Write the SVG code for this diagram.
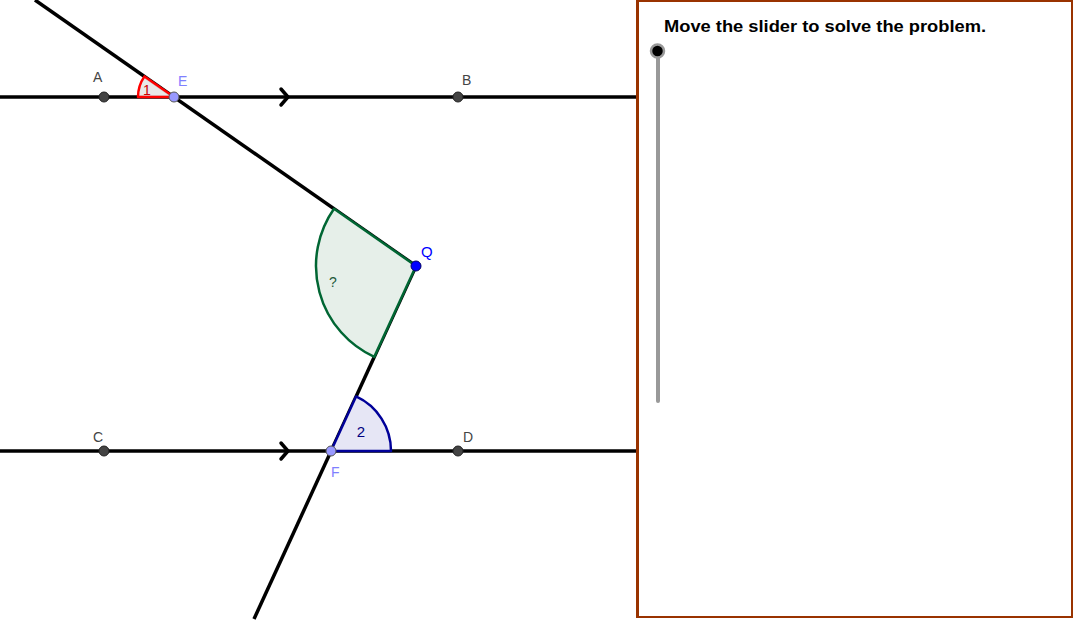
<svg xmlns="http://www.w3.org/2000/svg" width="1075" height="620" viewBox="0 0 1075 620">
<style>
.ln{stroke:#000;stroke-width:3.5;fill:none;stroke-linecap:butt}
.chev{stroke:#000;stroke-width:3.5;fill:none;stroke-linecap:round;stroke-linejoin:miter}
.pt{fill:#444;stroke:#222;stroke-width:1}
.pf{fill:#9999ff;stroke:#555;stroke-width:1}
.lbl{font-family:"Liberation Sans",Arial,sans-serif;font-size:14px;fill:#444}
.lblf{font-family:"Liberation Sans",Arial,sans-serif;font-size:14px;fill:#7f7fff}
</style>
<rect width="1075" height="620" fill="#fff"/>
<g id="connectors">
<line class="ln" x1="0" y1="97" x2="636" y2="97"/>
<line class="ln" x1="0" y1="451" x2="636" y2="451"/>
<line class="ln" x1="35" y1="0" x2="416" y2="266"/>
<line class="ln" x1="416" y1="266" x2="254" y2="619"/>
<polyline class="chev" points="281,89 288,97 281,105"/>
<polyline class="chev" points="281,443 288,451 281,459"/>
</g>
<g id="angle1">
<path d="M174,97 L138,97 A36,36 0 0 1 144.5,76.4 Z" fill="#e6e6e6" fill-opacity="0.9" stroke="#ff0000" stroke-width="2.5" stroke-linejoin="round"/>
<text x="147" y="95" font-family="Liberation Sans,Arial,sans-serif" font-size="14" fill="#cc0000" text-anchor="middle">1</text>
</g>
<g id="angleQ">
<path d="M416,266 L334,208.75 A100,100 0 0 0 374.25,356.87 Z" fill="#e6efe9" stroke="#006633" stroke-width="2.5" stroke-linejoin="round"/>
<text x="333" y="287" font-family="Liberation Sans,Arial,sans-serif" font-size="14" fill="#1f5a3a" text-anchor="middle">?</text>
</g>
<g id="angle2">
<path d="M331,451 L391,451 A60,60 0 0 0 356.05,396.48 Z" fill="#e6e6f5" stroke="#000099" stroke-width="2.5" stroke-linejoin="round"/>
<text x="361" y="437" font-family="Liberation Sans,Arial,sans-serif" font-size="15" fill="#000080" text-anchor="middle">2</text>
</g>
<g id="A"><circle class="pt" cx="104" cy="97" r="5"/><text class="lbl" x="93" y="82">A</text></g>
<g id="B"><circle class="pt" cx="458" cy="97" r="5"/><text class="lbl" x="462" y="85">B</text></g>
<g id="C"><circle class="pt" cx="104" cy="451" r="5"/><text class="lbl" x="93" y="442">C</text></g>
<g id="D"><circle class="pt" cx="458" cy="451" r="5"/><text class="lbl" x="463" y="442">D</text></g>
<g id="E"><circle class="pf" cx="174" cy="97" r="5"/><text class="lblf" x="178" y="86">E</text></g>
<g id="F"><circle class="pf" cx="331" cy="451" r="5"/><text class="lblf" x="331" y="477">F</text></g>
<g id="Q"><circle cx="416" cy="266" r="5" fill="#0000ff" stroke="#000066" stroke-width="1"/><text x="421" y="257" font-family="Liberation Sans,Arial,sans-serif" font-size="15" fill="#0000ff">Q</text></g>
<g id="panel">
<rect x="638" y="1" width="434" height="616" fill="#fff" stroke="#993300" stroke-width="2"/>
<line x1="637.5" y1="0" x2="637.5" y2="618" stroke="#993300" stroke-width="3"/>
<text x="664" y="32" font-family="Liberation Sans,Arial,sans-serif" font-size="16" font-weight="bold" fill="#000" textLength="322" lengthAdjust="spacingAndGlyphs">Move the slider to solve the problem.</text>
</g>
<g id="slider">
<line x1="658" y1="52" x2="658" y2="401" stroke="#999" stroke-width="4" stroke-linecap="round"/>
<circle cx="657.5" cy="51" r="6.5" fill="#000" stroke="#999" stroke-width="2.5"/>
</g>
</svg>
